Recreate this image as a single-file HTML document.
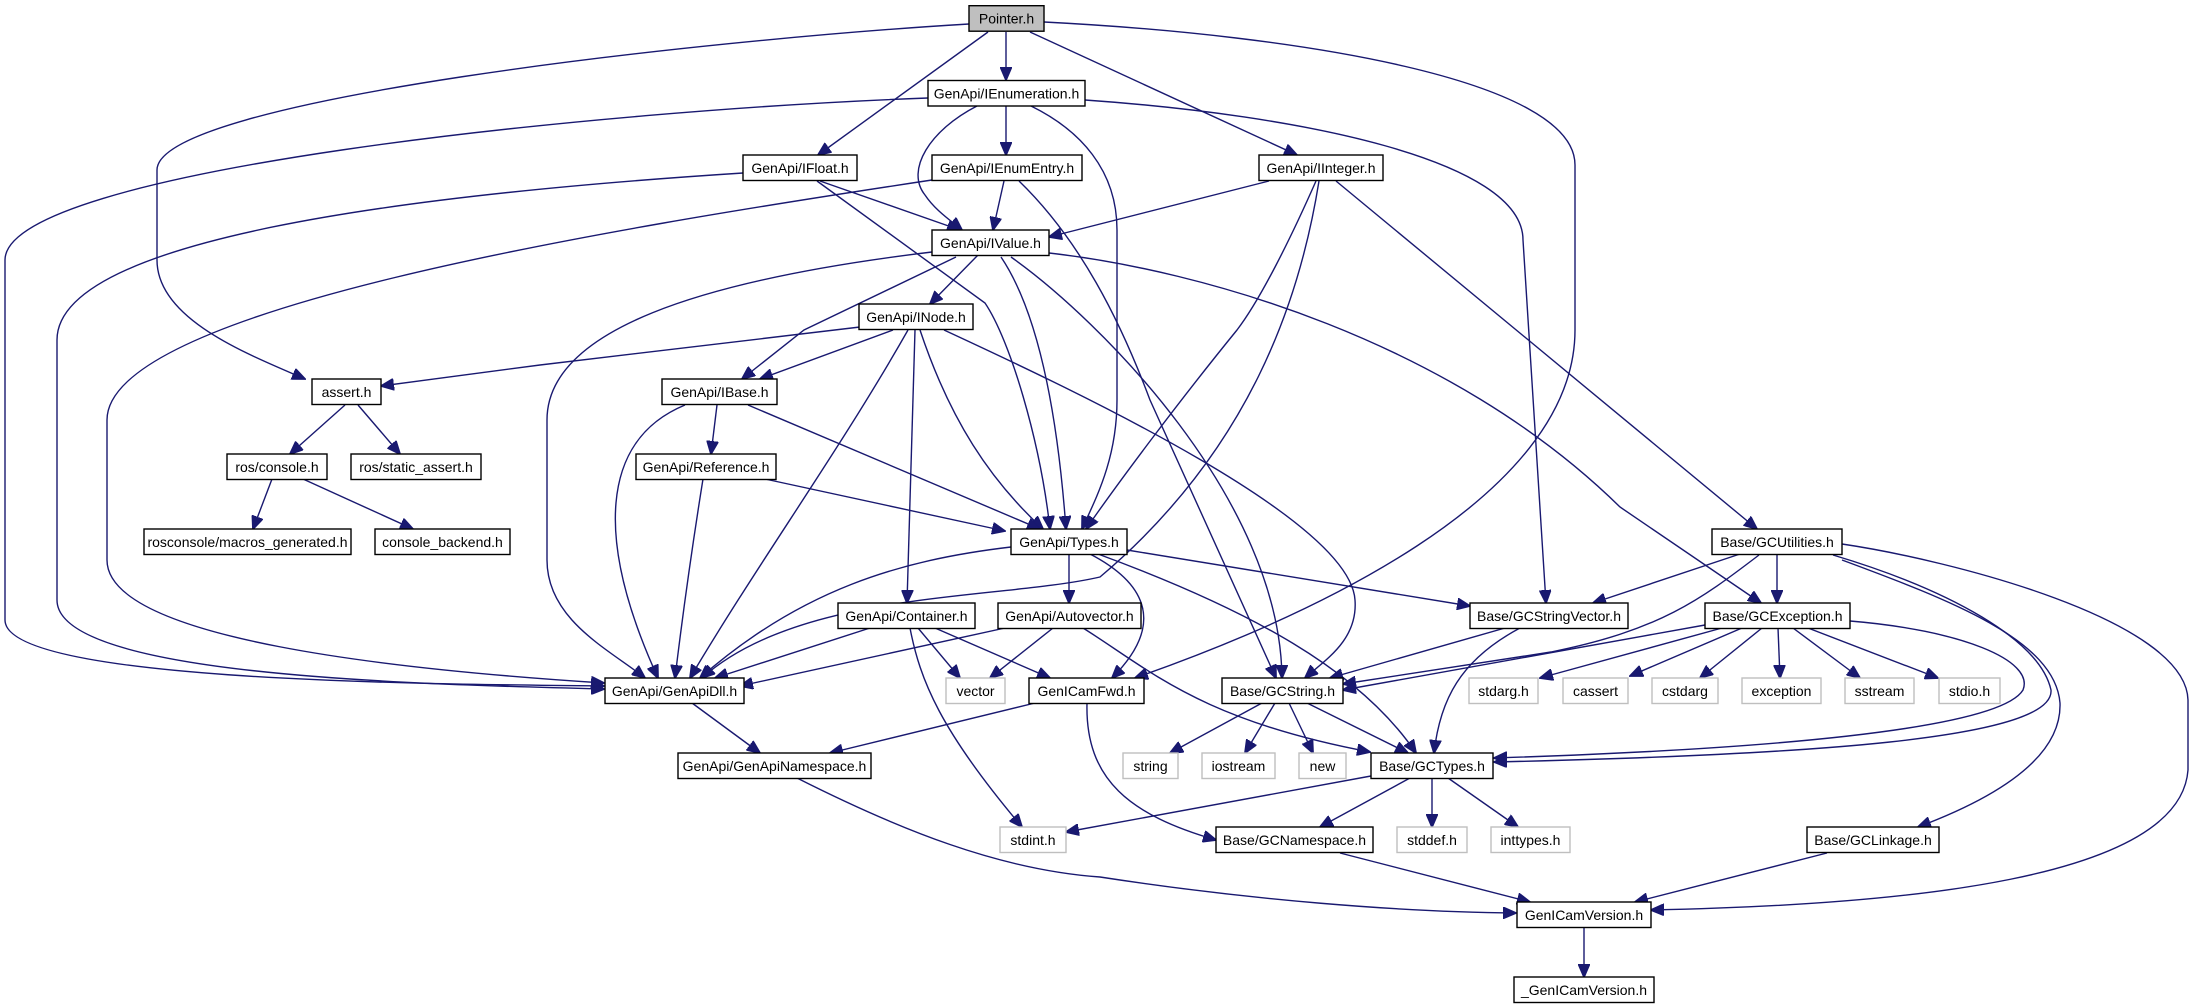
<!DOCTYPE html>
<html><head><meta charset="utf-8"><style>
html,body{margin:0;padding:0;background:#fff;}
svg{display:block;}
text{font-family:"Liberation Sans",Helvetica,Arial,sans-serif;font-size:14px;fill:#000;}
.e{fill:none;stroke:#191970;stroke-width:1.4;}
.n{fill:#fff;stroke:#000;stroke-width:1.4;}
.g{fill:#fff;stroke:#bfbfbf;stroke-width:1.4;}
</style></head><body>
<svg width="2195" height="1008" viewBox="0 0 2195 1008" xmlns="http://www.w3.org/2000/svg">
<defs>
<marker id="a" markerUnits="userSpaceOnUse" markerWidth="14" markerHeight="12" refX="13" refY="6" orient="auto">
<path d="M0,0 L14,6 L0,12 z" fill="#191970" stroke="#191970"/>
</marker>
</defs>
<g marker-end="url(#a)">
<path class="e" d="M969,24 C700,40 157,100 157,170 L157,260 C157,320 250,355 305,379"/>
<path class="e" d="M1006,32 L1006,80"/>
<path class="e" d="M988,32 L818,155"/>
<path class="e" d="M1030,32 L1297,155"/>
<path class="e" d="M1044,22 C1300,35 1575,80 1575,165 L1575,330 C1575,500 1300,620 1135,678"/>
<path class="e" d="M928,98 C600,110 5,170 5,260 L5,620 C5,680 400,684 604,686"/>
<path class="e" d="M1006,106 L1006,155"/>
<path class="e" d="M977,106 C930,130 905,170 925,195 C935,210 950,220 962,230"/>
<path class="e" d="M1031,106 C1080,130 1117,170 1117,230 L1117,400 C1117,460 1095,500 1082,529"/>
<path class="e" d="M1085,100 C1300,115 1523,160 1523,240 L1546,603"/>
<path class="e" d="M820,181 L960,230"/>
<path class="e" d="M817,181 L985,303 C1010,340 1040,440 1050,529"/>
<path class="e" d="M743,173 C400,195 57,240 57,340 L57,600 C57,675 400,684 604,689"/>
<path class="e" d="M1004,181 L993,230"/>
<path class="e" d="M932,180 C600,230 107,310 107,420 L107,560 C107,640 400,670 604,683"/>
<path class="e" d="M1019,181 C1080,240 1120,320 1150,400 L1276,678"/>
<path class="e" d="M1269,181 L1049,237"/>
<path class="e" d="M1316,181 C1290,240 1260,300 1237,330 C1180,400 1120,480 1086,529"/>
<path class="e" d="M1319,181 C1300,300 1250,450 1100,577 C1000,600 800,590 702,678"/>
<path class="e" d="M1336,181 L1757,529"/>
<path class="e" d="M978,255 L930,304"/>
<path class="e" d="M956,257 L804,330 L742,379"/>
<path class="e" d="M932,252 C700,280 547,330 547,420 L547,560 C547,620 610,650 645,678"/>
<path class="e" d="M1001,257 C1030,300 1055,380 1066,529"/>
<path class="e" d="M1011,257 C1100,320 1280,500 1282,678"/>
<path class="e" d="M1049,253 C1200,270 1450,340 1620,507 L1761,603"/>
<path class="e" d="M860,327 L540,365 L381,386"/>
<path class="e" d="M893,330 L760,379"/>
<path class="e" d="M908,330 C840,450 760,560 690,678"/>
<path class="e" d="M915,330 L907,603"/>
<path class="e" d="M920,330 C950,420 990,480 1043,529"/>
<path class="e" d="M944,330 C1080,393 1350,520 1355,600 C1358,640 1325,660 1305,678"/>
<path class="e" d="M345,405 L290,454"/>
<path class="e" d="M358,405 L400,454"/>
<path class="e" d="M272,479 L253,529"/>
<path class="e" d="M303,479 L413,529"/>
<path class="e" d="M717,405 L711,454"/>
<path class="e" d="M685,405 C600,440 595,540 658,678"/>
<path class="e" d="M748,405 L1040,529"/>
<path class="e" d="M765,479 L1005,531"/>
<path class="e" d="M703,479 C690,560 682,620 675,678"/>
<path class="e" d="M1011,547 C900,560 800,590 700,678"/>
<path class="e" d="M1069,554 L1069,603"/>
<path class="e" d="M1090,554 C1140,580 1170,620 1112,678"/>
<path class="e" d="M1127,550 L1470,606"/>
<path class="e" d="M1098,554 C1250,610 1360,670 1416,753"/>
<path class="e" d="M870,628 L715,678"/>
<path class="e" d="M918,628 L960,678"/>
<path class="e" d="M935,628 L1050,678"/>
<path class="e" d="M910,628 C920,680 940,730 1022,827"/>
<path class="e" d="M1005,628 L740,686"/>
<path class="e" d="M1053,628 L990,678"/>
<path class="e" d="M1083,628 C1150,670 1200,720 1370,752"/>
<path class="e" d="M1505,628 L1330,678"/>
<path class="e" d="M1520,628 C1460,660 1440,700 1434,753"/>
<path class="e" d="M1740,554 L1593,603"/>
<path class="e" d="M1777,554 L1777,603"/>
<path class="e" d="M1759,555 C1700,600 1660,630 1551,652 L1343,684"/>
<path class="e" d="M1833,555 C1950,590 2040,640 2051,690 C2055,740 1800,755 1494,762"/>
<path class="e" d="M1842,560 C1950,600 2055,640 2060,703 C2062,760 1990,800 1918,827"/>
<path class="e" d="M1842,544 C1950,560 2186,620 2188,700 L2188,770 C2180,880 1900,905 1651,910"/>
<path class="e" d="M1705,625 L1343,690"/>
<path class="e" d="M1722,628 L1540,678"/>
<path class="e" d="M1742,628 L1630,676"/>
<path class="e" d="M1762,628 L1700,678"/>
<path class="e" d="M1778,628 L1780,678"/>
<path class="e" d="M1793,628 L1860,678"/>
<path class="e" d="M1808,628 L1938,678"/>
<path class="e" d="M1850,621 C1960,630 2035,660 2023,690 C2008,715 1900,745 1494,758"/>
<path class="e" d="M692,703 L760,753"/>
<path class="e" d="M1035,703 L830,753"/>
<path class="e" d="M1087,703 C1085,780 1130,815 1216,840"/>
<path class="e" d="M1262,703 L1170,753"/>
<path class="e" d="M1275,703 L1245,753"/>
<path class="e" d="M1289,703 L1313,753"/>
<path class="e" d="M1307,703 L1408,753"/>
<path class="e" d="M1371,776 L1066,832"/>
<path class="e" d="M1410,778 L1320,827"/>
<path class="e" d="M1432,778 L1432,827"/>
<path class="e" d="M1448,778 L1518,827"/>
<path class="e" d="M797,778 C900,830 1000,870 1100,877 C1250,900 1400,912 1516,913"/>
<path class="e" d="M1340,853 L1530,902"/>
<path class="e" d="M1827,853 L1635,902"/>
<path class="e" d="M1584,927 L1584,977"/>
</g>
<g>
<rect x="969" y="5.7" width="75" height="25.5" fill="#bfbfbf" stroke="#000" stroke-width="1.4"/><text x="1006.5" y="23.5" text-anchor="middle">Pointer.h</text>
<rect class="n" x="928" y="80.5" width="157" height="25.5"/><text x="1006.5" y="98.3" text-anchor="middle">GenApi/IEnumeration.h</text>
<rect class="n" x="743" y="155" width="114" height="25.5"/><text x="800" y="172.8" text-anchor="middle">GenApi/IFloat.h</text>
<rect class="n" x="932" y="155" width="150" height="25.5"/><text x="1007" y="172.8" text-anchor="middle">GenApi/IEnumEntry.h</text>
<rect class="n" x="1259" y="155" width="124" height="25.5"/><text x="1321" y="172.8" text-anchor="middle">GenApi/IInteger.h</text>
<rect class="n" x="932" y="230" width="117" height="25.5"/><text x="990.5" y="247.8" text-anchor="middle">GenApi/IValue.h</text>
<rect class="n" x="859" y="304" width="114" height="25.5"/><text x="916" y="321.8" text-anchor="middle">GenApi/INode.h</text>
<rect class="n" x="312" y="379" width="69" height="25.5"/><text x="346.5" y="396.8" text-anchor="middle">assert.h</text>
<rect class="n" x="662" y="379" width="115" height="25.5"/><text x="719.5" y="396.8" text-anchor="middle">GenApi/IBase.h</text>
<rect class="n" x="227" y="454" width="100" height="25.5"/><text x="277" y="471.8" text-anchor="middle">ros/console.h</text>
<rect class="n" x="351" y="454" width="130" height="25.5"/><text x="416" y="471.8" text-anchor="middle">ros/static_assert.h</text>
<rect class="n" x="636" y="454" width="140" height="25.5"/><text x="706" y="471.8" text-anchor="middle">GenApi/Reference.h</text>
<rect class="n" x="144" y="529" width="207" height="25.5"/><text x="247.5" y="546.8" text-anchor="middle">rosconsole/macros_generated.h</text>
<rect class="n" x="375" y="529" width="135" height="25.5"/><text x="442.5" y="546.8" text-anchor="middle">console_backend.h</text>
<rect class="n" x="1011" y="529" width="116" height="25.5"/><text x="1069" y="546.8" text-anchor="middle">GenApi/Types.h</text>
<rect class="n" x="1712" y="529" width="130" height="25.5"/><text x="1777" y="546.8" text-anchor="middle">Base/GCUtilities.h</text>
<rect class="n" x="838" y="603" width="137" height="25.5"/><text x="906.5" y="620.8" text-anchor="middle">GenApi/Container.h</text>
<rect class="n" x="998" y="603" width="143" height="25.5"/><text x="1069.5" y="620.8" text-anchor="middle">GenApi/Autovector.h</text>
<rect class="n" x="1470" y="603" width="158" height="25.5"/><text x="1549" y="620.8" text-anchor="middle">Base/GCStringVector.h</text>
<rect class="n" x="1705" y="603" width="145" height="25.5"/><text x="1777.5" y="620.8" text-anchor="middle">Base/GCException.h</text>
<rect class="n" x="605" y="678" width="139" height="25.5"/><text x="674.5" y="695.8" text-anchor="middle">GenApi/GenApiDll.h</text>
<rect class="g" x="946" y="678" width="59" height="25.5"/><text x="975.5" y="695.8" text-anchor="middle">vector</text>
<rect class="n" x="1029" y="678" width="115" height="25.5"/><text x="1086.5" y="695.8" text-anchor="middle">GenICamFwd.h</text>
<rect class="n" x="1222" y="678" width="121" height="25.5"/><text x="1282.5" y="695.8" text-anchor="middle">Base/GCString.h</text>
<rect class="g" x="1469" y="678" width="69" height="25.5"/><text x="1503.5" y="695.8" text-anchor="middle">stdarg.h</text>
<rect class="g" x="1563" y="678" width="65" height="25.5"/><text x="1595.5" y="695.8" text-anchor="middle">cassert</text>
<rect class="g" x="1652" y="678" width="66" height="25.5"/><text x="1685" y="695.8" text-anchor="middle">cstdarg</text>
<rect class="g" x="1742" y="678" width="79" height="25.5"/><text x="1781.5" y="695.8" text-anchor="middle">exception</text>
<rect class="g" x="1845" y="678" width="69" height="25.5"/><text x="1879.5" y="695.8" text-anchor="middle">sstream</text>
<rect class="g" x="1939" y="678" width="61" height="25.5"/><text x="1969.5" y="695.8" text-anchor="middle">stdio.h</text>
<rect class="n" x="678" y="753" width="193" height="25.5"/><text x="774.5" y="770.8" text-anchor="middle">GenApi/GenApiNamespace.h</text>
<rect class="g" x="1123" y="753" width="55" height="25.5"/><text x="1150.5" y="770.8" text-anchor="middle">string</text>
<rect class="g" x="1202" y="753" width="73" height="25.5"/><text x="1238.5" y="770.8" text-anchor="middle">iostream</text>
<rect class="g" x="1299" y="753" width="47" height="25.5"/><text x="1322.5" y="770.8" text-anchor="middle">new</text>
<rect class="n" x="1371" y="753" width="122" height="25.5"/><text x="1432" y="770.8" text-anchor="middle">Base/GCTypes.h</text>
<rect class="g" x="1000" y="827" width="66" height="25.5"/><text x="1033" y="844.8" text-anchor="middle">stdint.h</text>
<rect class="n" x="1216" y="827" width="157" height="25.5"/><text x="1294.5" y="844.8" text-anchor="middle">Base/GCNamespace.h</text>
<rect class="g" x="1397" y="827" width="70" height="25.5"/><text x="1432" y="844.8" text-anchor="middle">stddef.h</text>
<rect class="g" x="1491" y="827" width="79" height="25.5"/><text x="1530.5" y="844.8" text-anchor="middle">inttypes.h</text>
<rect class="n" x="1807" y="827" width="132" height="25.5"/><text x="1873" y="844.8" text-anchor="middle">Base/GCLinkage.h</text>
<rect class="n" x="1517" y="902" width="134" height="25.5"/><text x="1584" y="919.8" text-anchor="middle">GenICamVersion.h</text>
<rect class="n" x="1514" y="977" width="140" height="25.5"/><text x="1584" y="994.8" text-anchor="middle">_GenICamVersion.h</text>
</g>
</svg>
</body></html>
